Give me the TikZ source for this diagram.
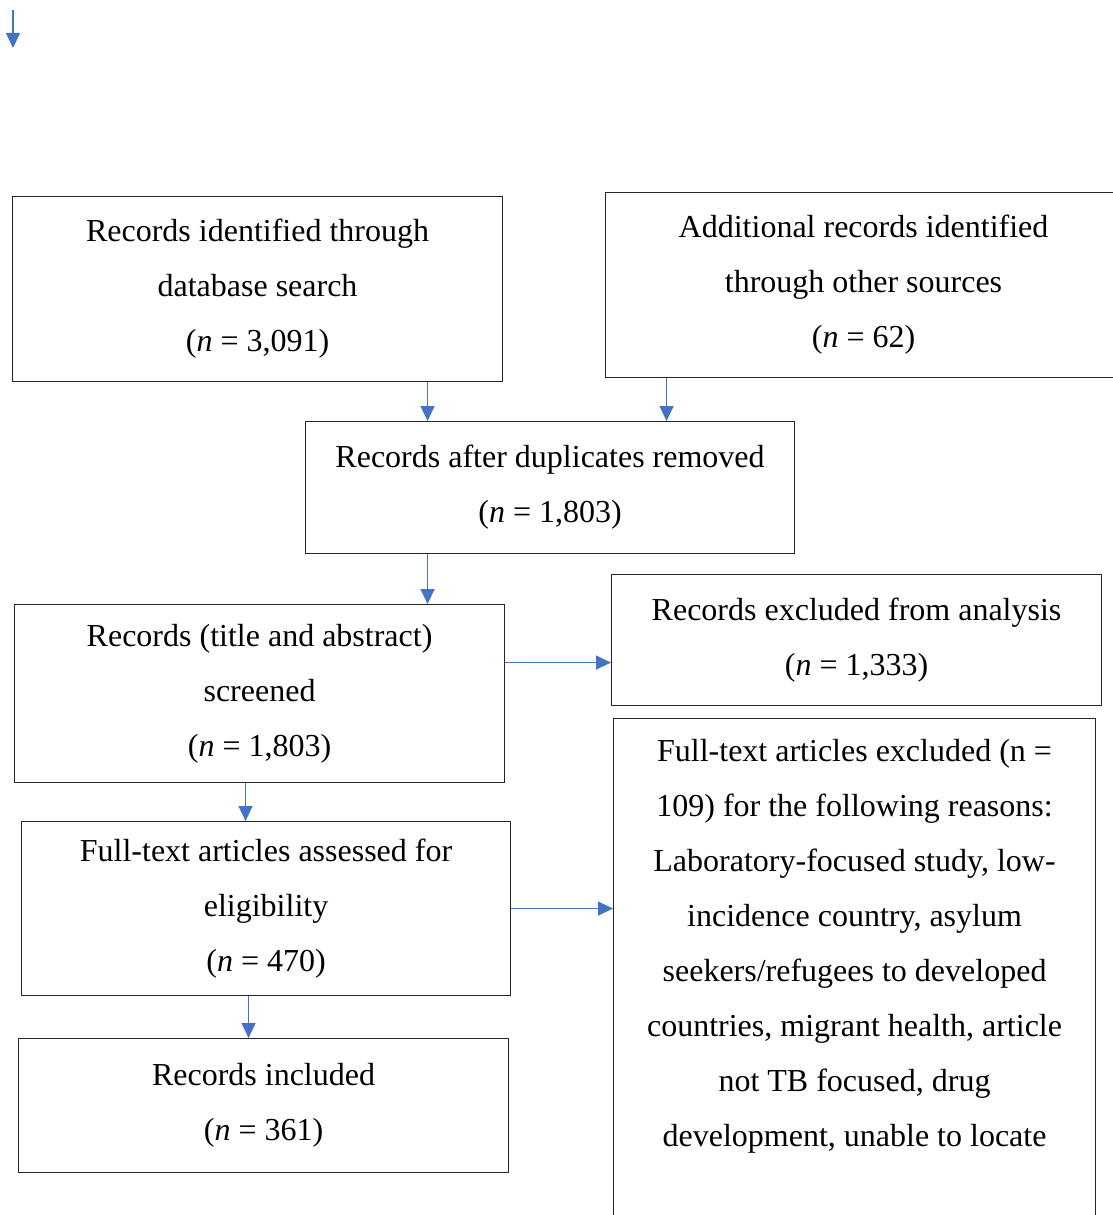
\documentclass[tikz,border=0pt]{standalone}
\usepackage{fontspec}
\setmainfont{Liberation Serif}
\usetikzlibrary{arrows.meta}

\definecolor{arrblue}{RGB}{68,114,196}

\begin{document}
\begin{tikzpicture}[x=1pt,y=-1pt,
  box/.style={draw=black!85,line width=1.1pt,anchor=north west,align=center,
    inner sep=0pt,font={\fontsize{32}{55}\selectfont}},
  arr/.style={draw=arrblue,line width=1.4pt,-{Triangle[width=14pt,length=15pt]}}]

\clip (0,0) rectangle (1113,1215);

\coordinate (t0) at (13,10);
\coordinate (t1) at (13,48);

\node [box,minimum width=490,minimum height=185] (n1) at ( 12,196) {Records identified through\\database search\\(\textit{n} = 3,091)};
\node [box,minimum width=516,minimum height=185] (n2) at (605,192) {Additional records identified\\through other sources\\(\textit{n} = 62)};

\node [box,minimum width=489,minimum height=132] (n12) at (305,421) {Records after duplicates removed\\(\textit{n} = 1,803)};

\node [box,minimum width=490,minimum height=178] (n3)  at ( 14,604) {Records (title and abstract)\\screened\\(\textit{n} = 1,803)};
\node [box,minimum width=490,minimum height=131] (n3e) at (611,574) {Records excluded from analysis\\(\textit{n} = 1,333)};

\node [box,minimum width=489,minimum height=174] (n4)  at ( 21,821) {Full-text articles assessed for\\eligibility\\(\textit{n} = 470)};
\node [box,minimum width=482,minimum height=504] (n4e) at (613,718) {Full-text articles excluded (n =\\109) for the following reasons:\\Laboratory-focused study, low-\\incidence country, asylum\\seekers/refugees to developed\\countries, migrant health, article\\not TB focused, drug\\development, unable to locate\\~};

\node [box,minimum width=490,minimum height=134] (n5)  at ( 18,1038) {Records included\\(\textit{n} = 361)};

\draw [arr] (t0) -- (t1);

\draw [arr] (n1.south) ++(170,0) coordinate (a1) -- (a1 |- n12.north);
\draw [arr] (n2.south) ++(-197,0) coordinate (a2) -- (a2 |- n12.north);
\draw [arr] (n12.south) ++(-122.5,0) coordinate (a3) -- (a3 |- n3.north);

\draw [arr] (n3.east) ++(0,-31) coordinate (a4) -- (a4 -| n3e.west);
\draw [arr] (n3.south) ++(-14,0) coordinate (a5) -- (a5 |- n4.north);

\draw [arr] (n4.east) -- (n4.east -| n4e.west);
\draw [arr] (n4.south) ++(-17.5,0) coordinate (a6) -- (a6 |- n5.north);

\end{tikzpicture}
\end{document}
